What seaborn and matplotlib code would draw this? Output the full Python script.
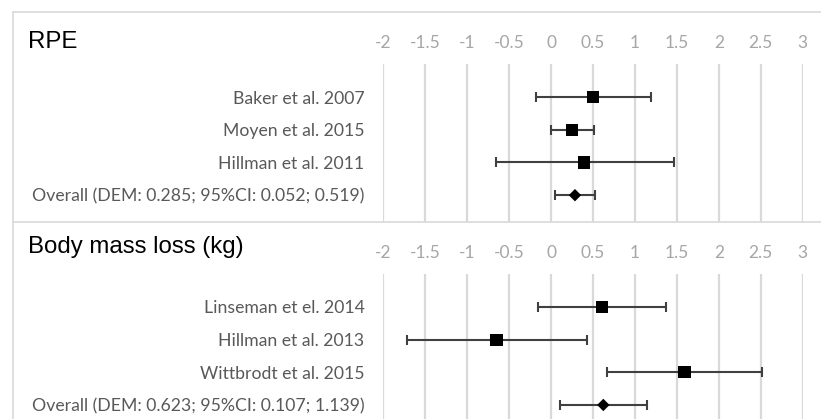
import matplotlib
matplotlib.use("Agg")
import matplotlib.pyplot as plt
import seaborn as sns
import pandas as pd
from matplotlib.lines import Line2D

# Effect estimates with 95% confidence limits
rpe_studies = ["Baker et al. 2007", "Moyen et al. 2015", "Hillman et al. 2011",
               "Overall (DEM: 0.285; 95%CI: 0.052; 0.519)"]
rpe_est = [0.50, 0.25, 0.39, 0.285]
rpe_low = [-0.18, 0.00, -0.66, 0.052]
rpe_high = [1.19, 0.51, 1.46, 0.519]

bml_studies = ["Linseman et el. 2014", "Hillman et al. 2013", "Wittbrodt et al. 2015",
               "Overall (DEM: 0.623; 95%CI: 0.107; 1.139)"]
bml_est = [0.61, -0.65, 1.59, 0.623]
bml_low = [-0.15, -1.72, 0.67, 0.107]
bml_high = [1.37, 0.43, 2.52, 1.139]

kinds = ["study", "study", "study", "overall"]
x_ticks = [-2, -1.5, -1, -0.5, 0, 0.5, 1, 1.5, 2, 2.5, 3]
x_tick_labels = ["-2", "-1.5", "-1", "-0.5", "0", "0.5", "1", "1.5", "2", "2.5", "3"]

sns.set_theme(style="white")
plt.rcParams["font.family"] = ["Lato", "DejaVu Sans"]

W, H = 821, 419
fig = plt.figure(figsize=(W / 100, H / 100), dpi=100)

GRID = "#d9d9d9"
LABEL = "#595959"
TICK = "#a6a6a6"
BAR = "#404040"


def px_rect(x0, y0, x1, y1):
    return [x0 / W, 1 - y1 / H, (x1 - x0) / W, (y1 - y0) / H]


def panel(rect, studies, est, low, high, ylim):
    ax = fig.add_axes(rect)
    df = pd.DataFrame({"study": studies, "row": range(len(studies)),
                       "est": est, "low": low, "high": high, "kind": kinds})
    for x in x_ticks:
        ax.axvline(x, color=GRID, lw=1.6, zorder=0)
    ax.errorbar(df["est"], df["row"],
                xerr=[df["est"] - df["low"], df["high"] - df["est"]],
                fmt="none", ecolor=BAR, elinewidth=1.5, capsize=3.6,
                capthick=1.5, zorder=2)
    sns.scatterplot(data=df, x="est", y="row", style="kind", size="kind",
                    markers={"study": "s", "overall": "D"},
                    sizes={"study": 78, "overall": 40},
                    color="black", edgecolor="black", linewidth=0,
                    legend=False, ax=ax, zorder=3)
    ax.set_xlim(-2, 3)
    ax.set_ylim(*ylim)
    ax.set_xticks(x_ticks)
    ax.set_xticklabels(x_tick_labels)
    ax.set_yticks(df["row"])
    ax.set_yticklabels(df["study"])
    ax.xaxis.tick_top()
    ax.tick_params(axis="x", length=0, pad=9.5, labelsize=12.5, labelcolor=TICK)
    ax.tick_params(axis="y", length=0, pad=13.5, labelsize=12.7, labelcolor=LABEL)
    ax.set_xlabel("")
    ax.set_ylabel("")
    for s in ax.spines.values():
        s.set_visible(False)
    ax.patch.set_alpha(0)
    return ax


panel(px_rect(383.3, 64, 802.7, 222), rpe_studies, rpe_est, rpe_low, rpe_high,
      (3.82, -1.01))
panel(px_rect(383.3, 274, 802.7, 419), bml_studies, bml_est, bml_low, bml_high,
      (3.43, -1.01))

# Panel titles
fig.text(28 / W, 1 - 48 / H, "RPE", fontsize=17.3, family="Liberation Sans",
         color="black", va="baseline", ha="left")
fig.text(28 / W, 1 - 253 / H, "Body mass loss (kg)", fontsize=17.3,
         family="Liberation Sans", color="black", va="baseline", ha="left")

# Outer frame and panel divider
for xs, ys in [((12.5, W), (12.5, 12.5)), ((12.5, 12.5), (12.5, H)),
               ((12.5, W), (222, 222))]:
    fig.add_artist(Line2D([x / W for x in xs], [1 - y / H for y in ys],
                          color=GRID, lw=1.2))

fig.savefig("out.png", dpi=100)
